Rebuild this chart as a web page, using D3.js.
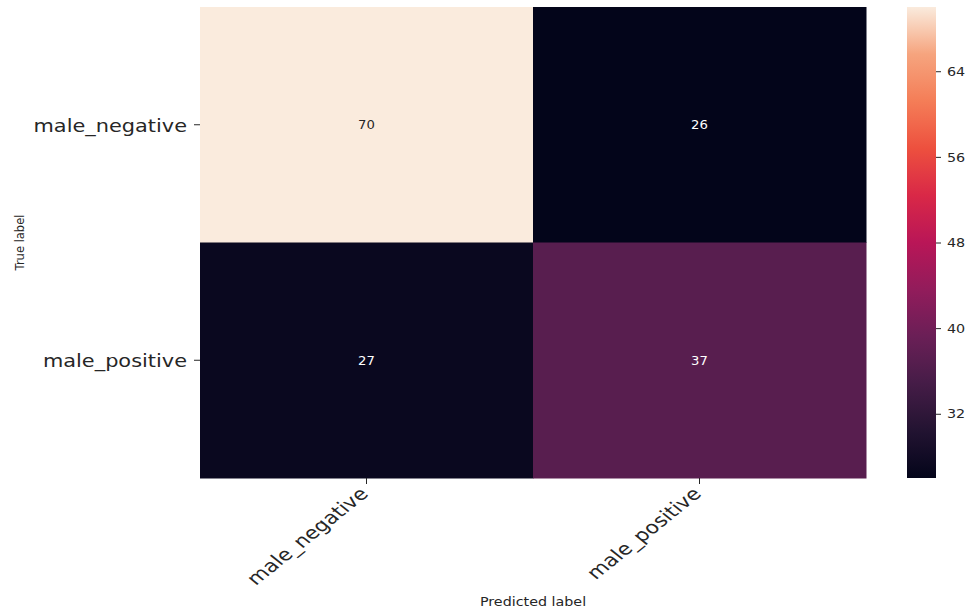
<!DOCTYPE html>
<html lang="en">
<head>
    <meta charset="UTF-8">
    <title>Confusion matrix</title>
    <script src="https://cdn.jsdelivr.net/npm/d3@7"></script>
    <style>
        body { margin: 0; background: #fff; }
        text { font-family: "DejaVu Sans", sans-serif; fill: #262626; }
    </style>
</head>
<body>
    <svg width="973" height="612"></svg>
    <script>
        // data
        var trueLabels = ["male_negative", "male_positive"];
        var predLabels = ["male_negative", "male_positive"];
        var matrix = [[70, 26],
                      [27, 37]];
        var cbarTicks = [32, 40, 48, 56, 64];
        var vmin = 26, vmax = 70;

        // approx seaborn "rocket"
        var rocket = ["#03051a", "#221331", "#451c47", "#6a1f56", "#921c5b",
                      "#b91657", "#d92847", "#ed503e", "#f47d57", "#f6a47e", "#faebdd"];
        var color = d3.scaleLinear()
            .domain(d3.range(rocket.length).map(function(i){ return vmin + (vmax - vmin) * i / (rocket.length - 1); }))
            .range(rocket)
            .interpolate(d3.interpolateRgb);

        var svg = d3.select("svg");
        var box = {left: 200, right: 866, top: 7, bottom: 478};
        var sx = 1.16; // the picture is a bit wider than tall

        var x = d3.scaleBand().domain(predLabels).range([box.left, box.right]);
        var y = d3.scaleBand().domain(trueLabels).range([box.top, box.bottom]);

        var cells = [];
        trueLabels.forEach(function(t, i){
            predLabels.forEach(function(p, j){
                cells.push({t: t, p: p, v: matrix[i][j]});
            });
        });

        var g = svg.append("g");
        g.selectAll("rect").data(cells).enter().append("rect")
            .attr("x", function(d){ return x(d.p); })
            .attr("y", function(d){ return y(d.t); })
            .attr("width", x.bandwidth() + 0.5)
            .attr("height", y.bandwidth() + 0.5)
            .attr("fill", function(d){ return color(d.v); });

        g.selectAll(".ann").data(cells).enter().append("text")
            .attr("class", "ann")
            .attr("transform", function(d){
                return "translate(" + (x(d.p) + x.bandwidth() / 2) + "," + (y(d.t) + y.bandwidth() / 2) + ") scale(1.1,1)";
            })
            .attr("text-anchor", "middle")
            .attr("dominant-baseline", "central")
            .style("font-size", "12px")
            .style("fill", function(d){ return d.v > 50 ? "#262626" : "#ffffff"; })
            .text(function(d){ return d.v; });

        // axes
        var yAxis = svg.append("g")
            .attr("transform", "translate(" + box.left + ",0)")
            .call(d3.axisLeft(y).tickSize(6).tickPadding(5));
        yAxis.select(".domain").remove();
        yAxis.selectAll(".tick line").attr("stroke", "#262626");
        yAxis.selectAll("text")
            .style("font-size", "18px").style("fill", "#262626")
            .attr("x", 0)
            .attr("transform", "translate(-13,1) scale(" + sx + ",1)");

        var xAxis = svg.append("g")
            .attr("transform", "translate(0," + box.bottom + ")")
            .call(d3.axisBottom(x).tickSize(6));
        xAxis.select(".domain").remove();
        xAxis.selectAll(".tick line").attr("stroke", "#262626");
        xAxis.selectAll("text")
            .style("font-size", "17.5px").style("fill", "#262626")
            .attr("text-anchor", "end")
            .attr("x", 0).attr("y", 0).attr("dy", 0)
            .attr("transform", "translate(3,17) scale(1.25,1) rotate(-45)");

        svg.append("text")
            .attr("transform", "translate(" + ((box.left + box.right) / 2) + ",606) scale(1.1,1)")
            .attr("text-anchor", "middle")
            .style("font-size", "13px")
            .text("Predicted label");

        svg.append("text")
            .attr("transform", "translate(24," + ((box.top + box.bottom) / 2) + ") rotate(-90)")
            .attr("text-anchor", "middle")
            .style("font-size", "11.5px")
            .text("True label");

        // colorbar
        var cb = {left: 907, width: 29};
        var defs = svg.append("defs");
        var grad = defs.append("linearGradient").attr("id", "cbar")
            .attr("x1", 0).attr("y1", 1).attr("x2", 0).attr("y2", 0);
        d3.range(0, 1.0001, 0.05).forEach(function(s){
            grad.append("stop").attr("offset", s).attr("stop-color", color(vmin + s * (vmax - vmin)));
        });
        var cy = d3.scaleLinear().domain([vmin, vmax]).range([box.bottom, box.top]);
        svg.append("rect")
            .attr("x", cb.left).attr("y", box.top)
            .attr("width", cb.width).attr("height", box.bottom - box.top)
            .attr("fill", "url(#cbar)");
        var cAxis = svg.append("g")
            .attr("transform", "translate(" + (cb.left + cb.width) + ",0)")
            .call(d3.axisRight(cy).tickValues(cbarTicks).tickSize(5).tickPadding(5));
        cAxis.select(".domain").remove();
        cAxis.selectAll(".tick line").attr("stroke", "#262626");
        cAxis.selectAll("text")
            .style("font-size", "13px").style("fill", "#262626")
            .attr("x", 0)
            .attr("transform", "translate(11,0) scale(1.1,1)");
    </script>
</body>
</html>
